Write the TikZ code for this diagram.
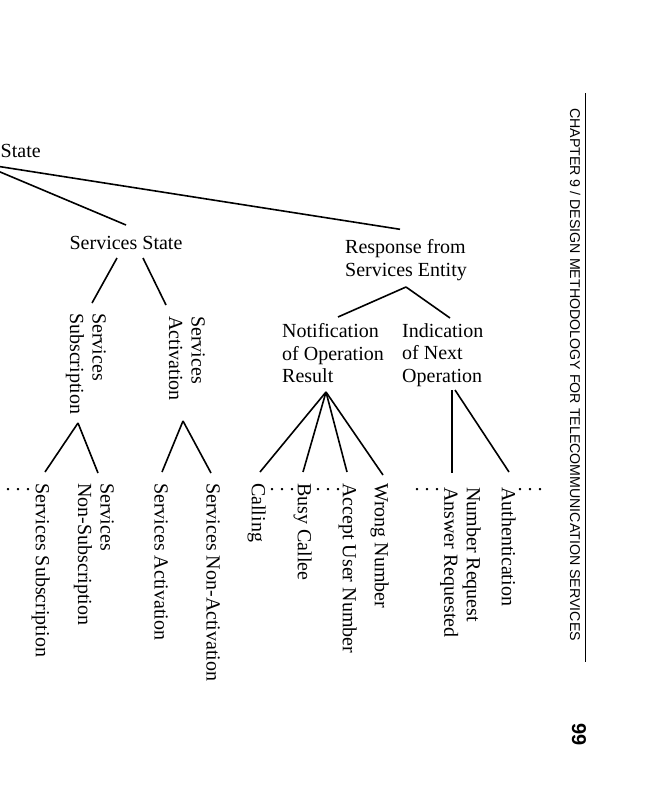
\documentclass[tikz,border=0pt]{standalone}
\usepackage{fontspec}
\setmainfont{Liberation Serif}
\newfontfamily\hdrfont{Liberation Sans}
\usetikzlibrary{calc}
\newcommand\lbfont{\rmfamily\fontsize{20}{22.5}\selectfont}
\tikzset{
  lbl/.style={font=\lbfont, inner sep=0pt, text=black},
  up/.style={lbl, align=left},
  rot/.style={lbl, rotate=-90, anchor=north west, align=left},
  dotrow/.style={lbl, anchor=base west},
  edge/.style={line width=1.6pt, black},
  hdr/.style={rotate=-90, anchor=base west, inner sep=0pt, text=black}
}
\begin{document}
\begin{tikzpicture}[x=1pt,y=-1pt]
\useasboundingbox (0,0) rectangle (657,800);
\fill[white] (0,0) rectangle (657,800);
\clip (0,0) rectangle (657,800);

% upright labels
\node[up, anchor=base west] (root) at (0.5,157) {State};
\coordinate (rootpt) at (-20,163.5);
\node[up, anchor=base] (ss) at (126,249) {Services State};
\node[up, anchor=north west] (rse) at (345,239.3) {Response from\\Services Entity};
\node[up, anchor=north west] (nor) at (282,323.3) {Notification\\of Operation\\Result};
\node[up, anchor=north west] (ino) at (402,323.3) {Indication\\of Next\\Operation};

% rotated labels
\node[rot] (sub) at (106,313) {Services\\Subscription};
\node[rot] (act) at (205,316) {Services\\Activation};
\node[rot] (ssub) at (50,483) {Services Subscription};
\node[rot] (snsub) at (114,483) {Services\\Non-Subscription};
\node[rot] (sact) at (168,483) {Services Activation};
\node[rot] (snact) at (220,483) {Services Non-Activation};
\node[rot] (call) at (266,483) {Calling};
\node[rot] (busy) at (312,483) {Busy Callee};
\node[rot] (acc) at (357,483) {Accept User Number};
\node[rot] (wrong) at (389,483) {Wrong Number};
\node[rot] (numans) at (481,487) {Number Request\\Answer Requested};
\node[rot] (auth) at (516,487) {Authentication};

% dots
\node[dotrow] (d1) at (5.5,490) {.\ .\ .};
\node[dotrow] (d2) at (269.5,490) {.\ .\ .};
\node[dotrow] (d3) at (315.5,490) {.\ .\ .};
\node[dotrow] (d4) at (414.5,490) {.\ .\ .};
\node[dotrow] (d5) at (517.5,490) {.\ .\ .};

% apex points
\coordinate (ssL) at ($(ss.base)+(-9,9)$);
\coordinate (ssR) at ($(ss.base)+(17,9)$);
\coordinate (subapex) at ($(sub.north west)+(-28,110)$);
\coordinate (actapex) at ($(act.north west)+(-22,105)$);
\coordinate (rseapex) at ($(rse.north west)+(61,47.7)$);
\coordinate (norapex) at ($(nor.north west)+(44,68.7)$);
\coordinate (inoL) at ($(ino.north west)+(50,66.7)$);
\coordinate (inoR) at ($(ino.north west)+(53,66.7)$);

% connectors
\draw[edge] (rootpt) -- ($(ss.base)+(0,-24)$);
\draw[edge] (rootpt) -- ($(rse.north west)+(55,-10)$);
\draw[edge] (ssL) -- ($(sub.north west)+(-14,-10)$);
\draw[edge] (ssR) -- ($(act.north west)+(-39,-11)$);
\draw[edge] (subapex) -- ($(ssub.north west)+(-5,-11)$);
\draw[edge] (subapex) -- ($(snsub.north west)+(-16,-10)$);
\draw[edge] (actapex) -- ($(sact.north west)+(-6,-11)$);
\draw[edge] (actapex) -- ($(snact.north west)+(-9,-10)$);
\draw[edge] (rseapex) -- ($(nor.north west)+(56,-6.3)$);
\draw[edge] (rseapex) -- ($(ino.north west)+(48,-5.3)$);
\draw[edge] (norapex) -- ($(call.north west)+(-6,-11)$);
\draw[edge] (norapex) -- ($(busy.north west)+(-9,-11)$);
\draw[edge] (norapex) -- ($(acc.north west)+(-10,-11)$);
\draw[edge] (norapex) -- ($(wrong.north west)+(-6,-8)$);
\draw[edge] (inoL) -- ($(numans.north west)+(-29,-14)$);
\draw[edge] (inoR) -- ($(auth.north west)+(-7,-15)$);

% running header
\draw[line width=0.8pt] (585,93) -- (585,662);
\node[hdr, font=\hdrfont\fontsize{14.2}{16}\selectfont] (head) at (570,108)
  {CHAPTER 9 / DESIGN METHODOLOGY FOR TELECOMMUNICATION SERVICES};
\node[hdr, font=\hdrfont\bfseries\fontsize{20}{22}\selectfont] (pg) at (572,723) {99};
\end{tikzpicture}
\end{document}
